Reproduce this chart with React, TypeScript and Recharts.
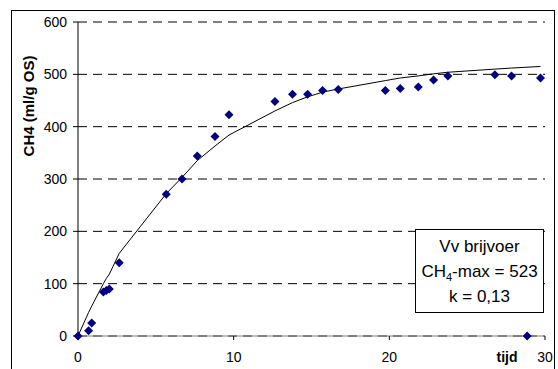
import { ScatterChart, Scatter, XAxis, YAxis, CartesianGrid, Label } from 'recharts';

// gemeten punten
const tijd = [0, 0.68, 0.88, 1.63, 1.82, 2.01, 2.65, 5.67, 6.68, 7.66, 8.8, 9.7, 12.65, 13.78, 14.75, 15.71, 16.72, 19.74, 20.7, 21.86, 22.84, 23.76, 26.78, 27.85, 28.85, 29.71];
const ch4 = [0, 10, 25, 84, 87, 90, 140, 271, 300, 344, 381, 423, 448, 462, 462, 469, 471, 469, 473, 476, 489, 497, 499, 497, 0, 493];

// model curve
const modelTijd = [0, 0.68, 0.88, 1.63, 1.82, 2.01, 2.65, 5.67, 6.68, 7.66, 8.8, 9.7, 12.65, 13.78, 14.75, 15.71, 16.72, 19.74, 20.7, 21.86, 22.84, 23.76, 26.78, 27.85, 29.71];
const modelCh4 = [0, 45, 57, 100, 110, 118, 158, 272, 303, 335, 363, 384, 430, 446, 457, 466, 472, 488, 493, 497, 501, 504, 510, 512, 515];

const xTicks = [0, 10, 20, 30];
const yTicks = [0, 100, 200, 300, 400, 500, 600];

const points = tijd.map((x, i) => ({ x, y: ch4[i] }));
const curve = modelTijd.map((x, i) => ({ x, y: modelCh4[i] }));

const font = '"Liberation Sans", Arial, sans-serif';

const Diamond = (props: any) => {
  const { cx, cy } = props;
  const r = 4.5;
  return (
    <path
      d={`M${cx},${cy - r}L${cx + r},${cy}L${cx},${cy + r}L${cx - r},${cy}Z`}
      fill='#000080'
    />
  );
};

const App = () => {
  return (
    <div style={{ position: 'absolute', left: 0, top: 0, width: 558, height: 369, fontFamily: font }}>
      <div
        style={{
          position: 'absolute',
          left: 11,
          top: 10,
          width: 544,
          height: 380,
          border: '1.5px solid #000',
          boxSizing: 'border-box',
        }}
      />
      <ScatterChart
        width={558}
        height={369}
        margin={{ top: 22, right: 13, left: 0, bottom: 0 }}
        style={{ position: 'absolute', left: 0, top: 0, fontFamily: font }}
      >
        <CartesianGrid vertical={false} stroke='#000' strokeDasharray='9 6' />
        <XAxis
          type='number'
          dataKey='x'
          domain={[0, 30]}
          ticks={xTicks}
          height={33}
          tickSize={4}
          tickMargin={12}
          axisLine={{ stroke: '#808080' }}
          tickLine={{ stroke: '#000' }}
          tick={{ fontSize: 14, fill: '#000' }}
        >
          <Label
            content={() => (
              <text x={507} y={362} textAnchor='middle' fontWeight='bold' fontSize={14} fill='#000'>
                tijd
              </text>
            )}
          />
        </XAxis>
        <YAxis
          type='number'
          dataKey='y'
          domain={[0, 600]}
          ticks={yTicks}
          width={78}
          tickSize={5}
          tickMargin={6}
          axisLine={{ stroke: '#000' }}
          tickLine={{ stroke: '#000' }}
          tick={{ fontSize: 14, fill: '#000' }}
        >
          <Label
            content={() => (
              <text
                x={28}
                y={106}
                transform='rotate(-90, 28, 106)'
                textAnchor='middle'
                dominantBaseline='central'
                fontWeight='bold'
                fontSize={15}
                fill='#000'
              >
                CH4 (ml/g OS)
              </text>
            )}
          />
        </YAxis>
        <Scatter
          data={curve}
          line={{ stroke: '#000', strokeWidth: 1 }}
          lineType='joint'
          shape={() => <g />}
          isAnimationActive={false}
        />
        <Scatter data={points} shape={Diamond} isAnimationActive={false} />
      </ScatterChart>
      <div
        style={{
          position: 'absolute',
          left: 415,
          top: 229,
          width: 129,
          height: 84,
          boxSizing: 'border-box',
          border: '1px solid #000',
          background: '#fff',
          display: 'flex',
          flexDirection: 'column',
          justifyContent: 'center',
          alignItems: 'center',
          fontSize: 17,
          lineHeight: '25px',
          color: '#000',
        }}
      >
        <div>Vv brijvoer</div>
        <div>
          CH<sub style={{ fontSize: 11, lineHeight: 0 }}>4</sub>-max = 523
        </div>
        <div>k = 0,13</div>
      </div>
    </div>
  );
};

export default App;
